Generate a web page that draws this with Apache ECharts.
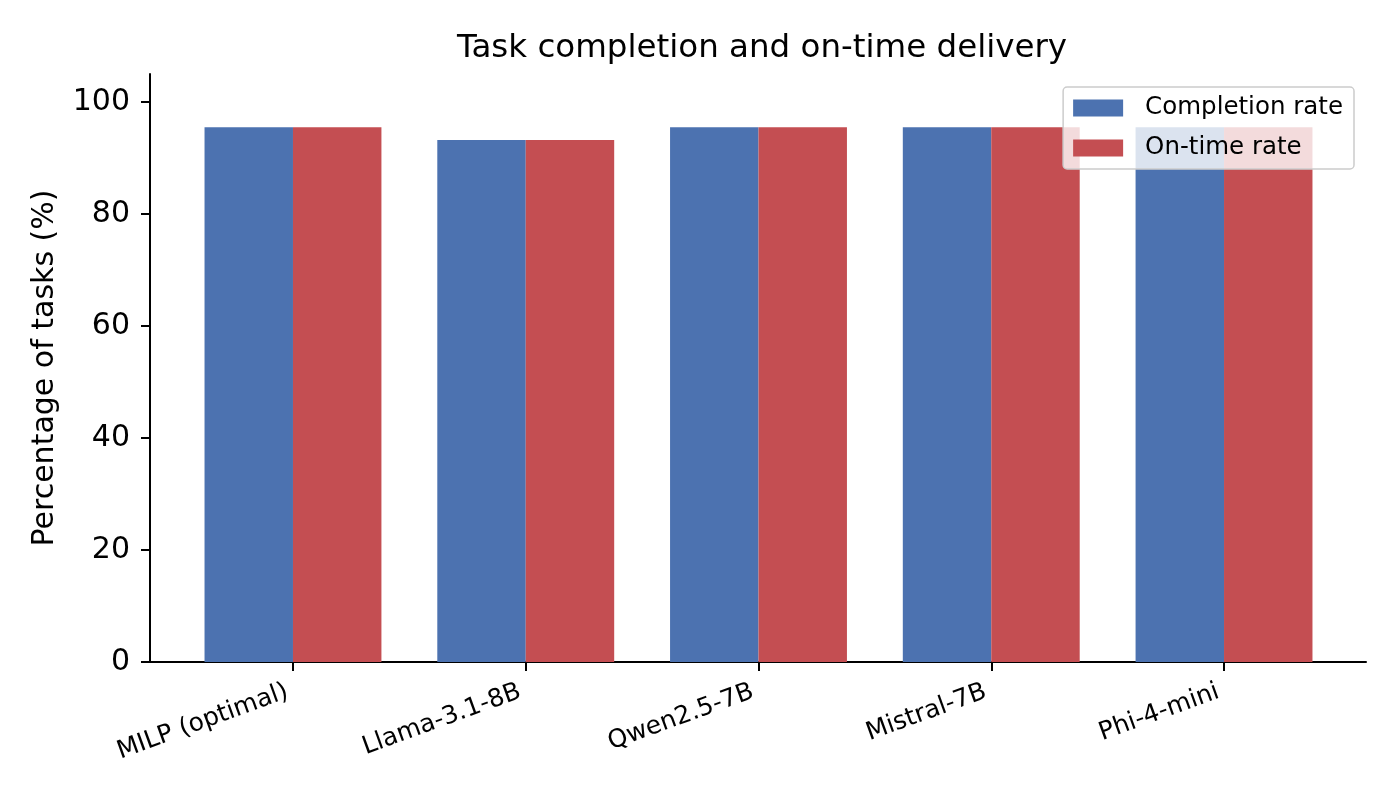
<!DOCTYPE html>
<html>
<head>
<meta charset="utf-8">
<script src="https://cdn.jsdelivr.net/npm/echarts@6/dist/echarts.min.js"></script>
<style>
  html, body { margin: 0; padding: 0; background: #fff; }
  #chart { width: 1400px; height: 800px; }
</style>
</head>
<body>
<div id="chart"></div>
<script>
var chart = echarts.init(document.getElementById('chart'));

// data
var categories = ['MILP (optimal)', 'Llama-3.1-8B', 'Qwen2.5-7B', 'Mistral-7B', 'Phi-4-mini'];
var completionRate = [95.5, 93.2, 95.5, 95.5, 95.5];
var onTimeRate = [95.5, 93.2, 95.5, 95.5, 95.5];
var yTicks = [0, 20, 40, 60, 80, 100];

var FONT = 'DejaVu Sans';
var BLUE = '#4C72B0';
var RED = '#C44E52';

var option = {
  backgroundColor: '#ffffff',
  animation: false,
  textStyle: { fontFamily: FONT, color: '#000' },
  title: {
    text: 'Task completion and on-time delivery',
    left: 757,
    textAlign: 'center',
    top: 27,
    textStyle: { fontFamily: FONT, fontSize: 32.5, fontWeight: 'normal', color: '#000' }
  },
  legend: {
    orient: 'vertical',
    align: 'left',
    right: 46,
    top: 87,
    padding: [7, 11, 7, 10],
    itemWidth: 50,
    itemHeight: 17,
    itemGap: 12,
    backgroundColor: 'rgba(255,255,255,0.8)',
    borderColor: '#cccccc',
    borderWidth: 1.5,
    borderRadius: 4,
    icon: 'rect',
    textStyle: { fontFamily: FONT, fontSize: 24.5, color: '#000', lineHeight: 28, padding: [0, 0, 0, 17] },
    data: ['Completion rate', 'On-time rate']
  },
  grid: [
    // outer frame: spines and y axis
    { left: 150, right: 34, top: 74, bottom: 138 },
    // inner grid: category bands
    { left: 176.6, right: 59.6, top: 74, bottom: 138 }
  ],
  xAxis: [
    {
      type: 'value', gridIndex: 0, min: 0, max: 1,
      axisLine: { show: true, onZero: false, lineStyle: { color: '#000', width: 2 } },
      axisTick: { show: false }, axisLabel: { show: false }, splitLine: { show: false }
    },
    {
      type: 'category', gridIndex: 1, data: categories,
      axisLine: { show: false },
      axisTick: { show: true, alignWithLabel: true, length: 9, lineStyle: { color: '#000', width: 2 } },
      axisLabel: { rotate: 20, margin: 27, padding: [0, 6, 0, 0], fontFamily: FONT, fontSize: 25, color: '#000', interval: 0 },
      splitLine: { show: false }
    }
  ],
  yAxis: [
    {
      type: 'value', gridIndex: 0, min: 0, max: 105,
      name: 'Percentage of tasks (%)',
      nameLocation: 'middle',
      nameGap: 90,
      nameTextStyle: { fontFamily: FONT, fontSize: 30, color: '#000' },
      axisLine: { show: true, lineStyle: { color: '#000', width: 2 } },
      axisTick: { show: true, length: 9, customValues: yTicks, lineStyle: { color: '#000', width: 2 } },
      axisLabel: { customValues: yTicks, margin: 20, fontFamily: FONT, fontSize: 30, color: '#000' },
      splitLine: { show: false }
    },
    {
      type: 'value', gridIndex: 1, min: 0, max: 105, show: false, splitLine: { show: false }
    }
  ],
  series: [
    {
      name: 'Completion rate', type: 'bar', xAxisIndex: 1, yAxisIndex: 1,
      data: completionRate, barWidth: '38%', barGap: '0%',
      itemStyle: { color: BLUE }
    },
    {
      name: 'On-time rate', type: 'bar', xAxisIndex: 1, yAxisIndex: 1,
      data: onTimeRate, barWidth: '38%', barGap: '0%',
      itemStyle: { color: RED }
    }
  ]
};

chart.setOption(option);
</script>
</body>
</html>
